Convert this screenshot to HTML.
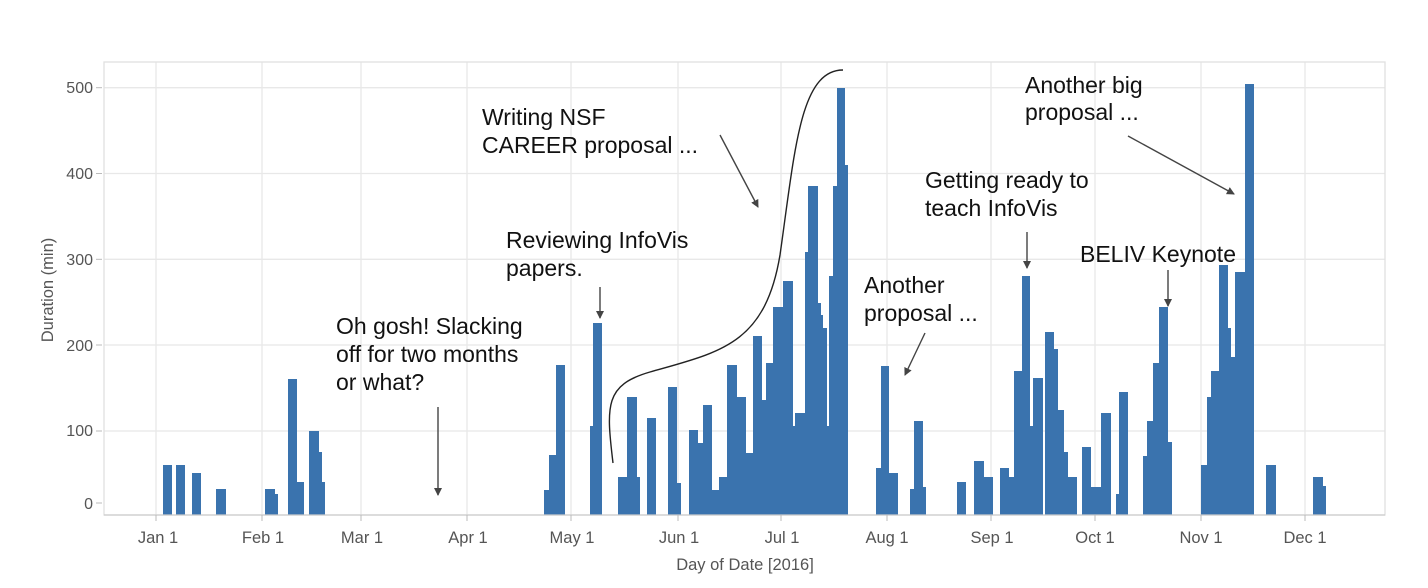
<!DOCTYPE html>
<html><head><meta charset="utf-8"><style>
html,body{margin:0;padding:0;background:#fff;}
svg{display:block;font-family:"Liberation Sans",Arial,sans-serif;}
</style></head><body>
<svg width="1428" height="588" viewBox="0 0 1428 588" xmlns="http://www.w3.org/2000/svg">
<defs><marker id="ah" markerWidth="8" markerHeight="8" refX="7" refY="4" orient="auto" markerUnits="userSpaceOnUse"><path d="M0,0 L8,4 L0,8 z" fill="#444"/></marker></defs>
<g stroke="#e8e8e8" stroke-width="1.3">
<line x1="104" y1="87.7" x2="1385" y2="87.7"/><line x1="104" y1="173.5" x2="1385" y2="173.5"/><line x1="104" y1="259.3" x2="1385" y2="259.3"/><line x1="104" y1="345" x2="1385" y2="345"/><line x1="104" y1="431" x2="1385" y2="431"/>
<line x1="156" y1="62" x2="156" y2="515"/><line x1="262" y1="62" x2="262" y2="515"/><line x1="361" y1="62" x2="361" y2="515"/><line x1="467" y1="62" x2="467" y2="515"/><line x1="571" y1="62" x2="571" y2="515"/><line x1="678" y1="62" x2="678" y2="515"/><line x1="781" y1="62" x2="781" y2="515"/><line x1="887" y1="62" x2="887" y2="515"/><line x1="991" y1="62" x2="991" y2="515"/><line x1="1095" y1="62" x2="1095" y2="515"/><line x1="1201" y1="62" x2="1201" y2="515"/><line x1="1305" y1="62" x2="1305" y2="515"/>
</g>
<rect x="104" y="62" width="1281" height="453" fill="none" stroke="#e0e0e0" stroke-width="1.3"/>
<g fill="#3a73ae">
<rect x="163" y="465" width="9" height="50"/><rect x="176" y="465" width="9" height="50"/><rect x="192" y="473" width="9" height="42"/><rect x="216" y="489" width="10" height="26"/><rect x="265" y="489" width="10" height="26"/><rect x="275" y="494" width="3" height="21"/><rect x="288" y="379" width="9" height="136"/><rect x="297" y="482" width="7" height="33"/><rect x="309" y="431" width="10" height="84"/><rect x="319" y="452" width="3" height="63"/><rect x="322" y="482" width="3" height="33"/>
<rect x="544" y="490" width="5" height="25"/><rect x="549" y="455" width="7" height="60"/><rect x="556" y="365" width="9" height="150"/><rect x="590" y="426" width="3" height="89"/><rect x="593" y="323" width="9" height="192"/><rect x="618" y="477" width="9" height="38"/><rect x="627" y="397" width="10" height="118"/><rect x="637" y="477" width="3" height="38"/><rect x="647" y="418" width="9" height="97"/><rect x="668" y="387" width="9" height="128"/><rect x="677" y="483" width="4" height="32"/>
<rect x="689" y="430" width="9" height="85"/><rect x="698" y="443" width="5" height="72"/><rect x="703" y="405" width="9" height="110"/><rect x="712" y="490" width="7" height="25"/><rect x="719" y="477" width="8" height="38"/><rect x="727" y="365" width="10" height="150"/><rect x="737" y="397" width="9" height="118"/><rect x="746" y="453" width="7" height="62"/><rect x="753" y="336" width="9" height="179"/><rect x="762" y="400" width="4" height="115"/><rect x="766" y="363" width="7" height="152"/><rect x="773" y="307" width="10" height="208"/><rect x="783" y="281" width="10" height="234"/><rect x="793" y="426" width="2" height="89"/><rect x="795" y="413" width="10" height="102"/><rect x="805" y="252" width="3" height="263"/><rect x="808" y="186" width="10" height="329"/><rect x="818" y="303" width="3" height="212"/><rect x="821" y="315" width="2" height="200"/><rect x="823" y="328" width="4" height="187"/><rect x="827" y="426" width="2" height="89"/><rect x="829" y="276" width="4" height="239"/><rect x="833" y="186" width="4" height="329"/><rect x="837" y="88" width="8" height="427"/><rect x="845" y="165" width="3" height="350"/>
<rect x="876" y="468" width="5" height="47"/><rect x="881" y="366" width="8" height="149"/><rect x="889" y="473" width="9" height="42"/><rect x="910" y="489" width="4" height="26"/><rect x="914" y="421" width="9" height="94"/><rect x="923" y="487" width="3" height="28"/><rect x="957" y="482" width="9" height="33"/><rect x="974" y="461" width="10" height="54"/><rect x="984" y="477" width="9" height="38"/><rect x="1000" y="468" width="9" height="47"/><rect x="1009" y="477" width="5" height="38"/><rect x="1014" y="371" width="8" height="144"/><rect x="1022" y="276" width="8" height="239"/><rect x="1030" y="426" width="3" height="89"/><rect x="1033" y="378" width="10" height="137"/><rect x="1045" y="332" width="9" height="183"/><rect x="1054" y="349" width="4" height="166"/><rect x="1058" y="410" width="6" height="105"/><rect x="1064" y="452" width="4" height="63"/><rect x="1068" y="477" width="9" height="38"/><rect x="1082" y="447" width="9" height="68"/><rect x="1091" y="487" width="10" height="28"/><rect x="1101" y="413" width="10" height="102"/><rect x="1116" y="494" width="3" height="21"/><rect x="1119" y="392" width="9" height="123"/><rect x="1143" y="456" width="4" height="59"/><rect x="1147" y="421" width="6" height="94"/><rect x="1153" y="363" width="6" height="152"/><rect x="1159" y="307" width="9" height="208"/><rect x="1168" y="442" width="4" height="73"/>
<rect x="1201" y="465" width="6" height="50"/><rect x="1207" y="397" width="4" height="118"/><rect x="1211" y="371" width="8" height="144"/><rect x="1219" y="265" width="9" height="250"/><rect x="1228" y="328" width="3" height="187"/><rect x="1231" y="357" width="4" height="158"/><rect x="1235" y="272" width="10" height="243"/><rect x="1245" y="84" width="9" height="431"/><rect x="1266" y="465" width="10" height="50"/><rect x="1313" y="477" width="10" height="38"/><rect x="1323" y="486" width="3" height="29"/>
</g>
<line x1="104" y1="515" x2="1385" y2="515" stroke="#ccc" stroke-width="1.3"/>
<g stroke="#bbb" stroke-width="1">
<line x1="96" y1="87.7" x2="102" y2="87.7"/><line x1="96" y1="173.5" x2="102" y2="173.5"/><line x1="96" y1="259.3" x2="102" y2="259.3"/><line x1="96" y1="345" x2="102" y2="345"/><line x1="96" y1="431" x2="102" y2="431"/><line x1="96" y1="503" x2="102" y2="503"/>
<line x1="156" y1="515" x2="156" y2="521"/><line x1="262" y1="515" x2="262" y2="521"/><line x1="361" y1="515" x2="361" y2="521"/><line x1="467" y1="515" x2="467" y2="521"/><line x1="571" y1="515" x2="571" y2="521"/><line x1="678" y1="515" x2="678" y2="521"/><line x1="781" y1="515" x2="781" y2="521"/><line x1="887" y1="515" x2="887" y2="521"/><line x1="991" y1="515" x2="991" y2="521"/><line x1="1095" y1="515" x2="1095" y2="521"/><line x1="1201" y1="515" x2="1201" y2="521"/><line x1="1305" y1="515" x2="1305" y2="521"/>
</g>
<g fill="#555" font-size="16" text-anchor="end">
<text x="93" y="93">500</text><text x="93" y="179">400</text><text x="93" y="265">300</text><text x="93" y="351">200</text><text x="93" y="436">100</text><text x="93" y="509">0</text>
</g>
<g fill="#555" font-size="16.5" text-anchor="middle">
<text x="158" y="543">Jan 1</text><text x="263" y="543">Feb 1</text><text x="362" y="543">Mar 1</text><text x="468" y="543">Apr 1</text><text x="572" y="543">May 1</text><text x="679" y="543">Jun 1</text><text x="782" y="543">Jul 1</text><text x="887" y="543">Aug 1</text><text x="992" y="543">Sep 1</text><text x="1095" y="543">Oct 1</text><text x="1201" y="543">Nov 1</text><text x="1305" y="543">Dec 1</text>
<text x="745" y="570">Day of Date [2016]</text>
<text transform="translate(53,290) rotate(-90)">Duration (min)</text>
</g>
<g fill="#111" font-size="23">
<text x="482" y="125">Writing NSF</text><text x="482" y="153">CAREER proposal ...</text>
<text x="506" y="248">Reviewing InfoVis</text><text x="506" y="276">papers.</text>
<text x="336" y="334">Oh gosh! Slacking</text><text x="336" y="362">off for two months</text><text x="336" y="390">or what?</text>
<text x="864" y="293">Another</text><text x="864" y="321">proposal ...</text>
<text x="925" y="188">Getting ready to</text><text x="925" y="216">teach InfoVis</text>
<text x="1080" y="262">BELIV Keynote</text>
<text x="1025" y="93">Another big</text><text x="1025" y="120">proposal ...</text>
</g>
<g stroke="#444" stroke-width="1.4" fill="none" marker-end="url(#ah)">
<line x1="438" y1="407" x2="438" y2="495"/>
<line x1="600" y1="287" x2="600" y2="318"/>
<line x1="720" y1="135" x2="758" y2="207"/>
<line x1="925" y1="333" x2="905" y2="375"/>
<line x1="1027" y1="232" x2="1027" y2="268"/>
<line x1="1168" y1="270" x2="1168" y2="306"/>
<line x1="1128" y1="136" x2="1234" y2="194"/>
</g>
<path d="M613,463 C606,405 605,385 650,372 C720,352 765,345 780,255 C795,150 800,70 843,70" stroke="#222" stroke-width="1.4" fill="none"/>
</svg>
</body></html>
